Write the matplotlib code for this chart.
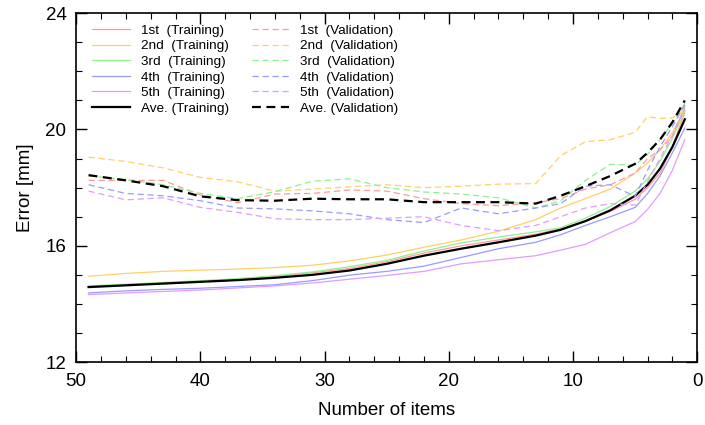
import numpy as np
import matplotlib
matplotlib.use('Agg')
from matplotlib import pyplot as plt
from matplotlib.ticker import MultipleLocator

plt.rcParams['font.family'] = ['Liberation Sans', 'DejaVu Sans']

# number of items kept
items = np.array([49, 46, 43, 40, 37, 34, 31, 28, 25, 22, 19, 16, 13, 11, 9, 7, 5, 4, 3, 2, 1])

# training error per fold [mm]
train_1 = [14.60, 14.66, 14.72, 14.78, 14.85, 14.95, 15.07, 15.22, 15.45, 15.75, 16.00, 16.20, 16.40, 16.58, 16.85, 17.18, 17.60, 18.00, 18.50, 19.40, 20.60]
train_2 = [14.95, 15.05, 15.12, 15.16, 15.20, 15.25, 15.33, 15.48, 15.68, 15.95, 16.20, 16.50, 16.90, 17.30, 17.62, 17.95, 18.50, 18.85, 19.30, 19.90, 20.70]
train_3 = [14.62, 14.68, 14.74, 14.80, 14.87, 14.97, 15.10, 15.28, 15.50, 15.82, 16.10, 16.30, 16.48, 16.62, 16.95, 17.35, 17.88, 18.30, 18.90, 19.70, 20.65]
train_4 = [14.38, 14.45, 14.50, 14.54, 14.60, 14.66, 14.80, 14.99, 15.12, 15.30, 15.60, 15.90, 16.12, 16.38, 16.70, 17.00, 17.32, 17.80, 18.40, 19.20, 20.05]
train_5 = [14.32, 14.38, 14.43, 14.48, 14.55, 14.62, 14.72, 14.85, 14.98, 15.12, 15.38, 15.52, 15.66, 15.85, 16.05, 16.45, 16.83, 17.25, 17.80, 18.60, 19.65]
train_ave = [14.58, 14.64, 14.70, 14.76, 14.82, 14.90, 15.00, 15.15, 15.38, 15.66, 15.90, 16.12, 16.35, 16.55, 16.85, 17.22, 17.72, 18.10, 18.65, 19.40, 20.35]

# validation error per fold [mm]
valid_1 = [18.25, 18.25, 18.25, 17.75, 17.48, 17.78, 17.80, 17.92, 17.88, 17.62, 17.45, 17.38, 17.48, 17.62, 17.95, 18.10, 18.50, 19.00, 19.30, 19.75, 20.80]
valid_2 = [19.05, 18.90, 18.68, 18.35, 18.20, 17.88, 17.95, 18.03, 18.10, 18.00, 18.05, 18.12, 18.14, 19.10, 19.58, 19.65, 19.90, 20.44, 20.38, 20.40, 20.70]
valid_3 = [18.40, 18.28, 18.10, 17.80, 17.62, 17.86, 18.22, 18.30, 18.00, 17.85, 17.78, 17.65, 17.30, 17.55, 18.25, 18.80, 18.78, 19.15, 19.65, 20.20, 20.90]
valid_4 = [18.10, 17.80, 17.72, 17.55, 17.30, 17.27, 17.20, 17.10, 16.90, 16.80, 17.30, 17.10, 17.30, 17.45, 18.05, 18.10, 17.70, 18.60, 19.40, 20.10, 20.85]
valid_5 = [17.88, 17.58, 17.65, 17.32, 17.15, 16.93, 16.90, 16.90, 16.95, 17.00, 16.70, 16.52, 16.70, 17.00, 17.30, 17.45, 17.40, 18.20, 19.00, 19.80, 20.75]
valid_ave = [18.43, 18.25, 18.05, 17.70, 17.57, 17.55, 17.62, 17.60, 17.60, 17.50, 17.50, 17.50, 17.45, 17.72, 18.05, 18.40, 18.82, 19.20, 19.65, 20.25, 21.00]

fold_names = ['1st', '2nd', '3rd', '4th', '5th']
fold_colors = ['#ff9a9a', '#ffd066', '#8ef08e', '#9a9aff', '#e19cff']


def main():
    fig = plt.figure(figsize=(7.05, 4.25), dpi=100)
    ax = fig.add_axes([0.108, 0.148, 0.881, 0.821])

    trains = [train_1, train_2, train_3, train_4, train_5]
    valids = [valid_1, valid_2, valid_3, valid_4, valid_5]

    # legend order: all training in first column, validation in second
    for name, c, t in zip(fold_names, fold_colors, trains):
        ax.plot(items, t, color=c, lw=0.9, label=name + '  (Training)')
    ax.plot(items, train_ave, color='black', lw=1.6, label='Ave. (Training)')
    for name, c, v in zip(fold_names, fold_colors, valids):
        ax.plot(items, v, color=c, lw=0.9, dashes=(5, 3), label=name + '  (Validation)')
    ax.plot(items, valid_ave, color='black', lw=1.6, dashes=(4, 2.5), label='Ave. (Validation)')

    ax.set_xlim(50, 0)
    ax.set_ylim(12, 24)
    ax.xaxis.set_major_locator(MultipleLocator(10))
    ax.xaxis.set_minor_locator(MultipleLocator(2))
    ax.yaxis.set_major_locator(MultipleLocator(4))
    ax.yaxis.set_minor_locator(MultipleLocator(1))
    ax.tick_params(which='both', direction='in', top=True, right=True, labelsize=13.5)
    ax.tick_params(which='major', length=8, width=1)
    ax.tick_params(which='minor', length=4.3, width=0.8)
    ax.tick_params(axis='y', pad=7)
    ax.tick_params(axis='x', pad=8)
    for s in ax.spines.values():
        s.set_linewidth(1.2)

    ax.set_xlabel('Number of items', fontsize=13.5)
    ax.set_ylabel('Error [mm]', fontsize=13.5)
    ax.xaxis.set_label_coords(0.5, -0.115)
    ax.yaxis.set_label_coords(-0.068, 0.5)

    ax.legend(loc='upper left', ncol=2, frameon=False, fontsize=9.7,
              handlelength=2.8, handletextpad=0.8, columnspacing=1.7,
              labelspacing=0.23, borderpad=0.4, borderaxespad=0.0,
              bbox_to_anchor=(0.017, 0.983))

    fig.savefig('out.png', dpi=100)


if __name__ == '__main__':
    main()
